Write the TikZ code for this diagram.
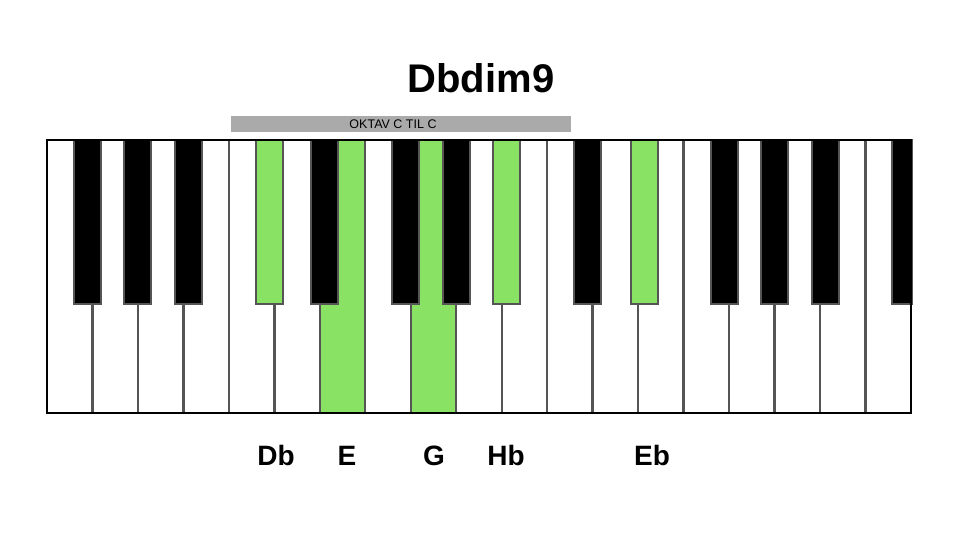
\documentclass[tikz,border=0pt]{standalone}
\usepackage{fontspec}
\setmainfont{Liberation Sans}
\definecolor{keygreen}{RGB}{137,226,100}
\definecolor{keyline}{RGB}{85,85,85}
\definecolor{barg}{RGB}{170,170,170}
\begin{document}
\begin{tikzpicture}[x=1pt,y=-1pt,
  whitekey/.style={draw=keyline, line width=2.3pt, minimum width=45.47pt, minimum height=273pt, inner sep=0pt, outer sep=0pt, anchor=north west},
  blackkey/.style={draw=keyline, line width=2pt, minimum width=27pt, minimum height=164pt, inner sep=0pt, outer sep=0pt, anchor=north west},
  notelabel/.style={anchor=base, inner sep=0pt, font=\bfseries\fontsize{28}{32}\selectfont},
  titletext/.style={anchor=base, inner sep=0pt, font=\bfseries\fontsize{40}{46}\selectfont},
  bartext/.style={anchor=base, inner sep=0pt, font=\fontsize{12.5}{14}\selectfont}]
\useasboundingbox (0,0) rectangle (960,540);
\fill[white] (0,0) rectangle (960,540);
% title
\node[titletext] (title) at (481,93) {Dbdim9};
% octave bar
\node[fill=barg, minimum width=340pt, minimum height=16pt, inner sep=0pt, anchor=north west] (bar) at (231,116) {};
\node[bartext] (bartxt) at (393,129) {OKTAV C TIL C};
% white keys
\foreach \i/\f in {0/white,1/white,2/white,3/white,4/white,5/white,6/keygreen,7/white,8/keygreen,9/white,10/white,11/white,12/white,13/white,14/white,15/white,16/white,17/white,18/white}{
  \node[whitekey, fill=\f] (w\i) at ({47+\i*45.47},140) {};
}
% black keys
\foreach \n/\b/\o/\f in {1/1/-5/black,2/2/0/black,3/3/5/black,4/5/-5/keygreen,5/6/5/black,6/8/-5/black,7/9/0/black,8/10/5/keygreen,9/12/-5/black,10/13/6/keygreen,11/15/-5/black,12/16/0/black,13/17/5/black}{
  \node[blackkey, fill=\f] (b\n) at ({47+\b*45.47+\o-13.5},140) {};
}
\node[blackkey, fill=black, minimum width=19.5pt] (b14) at (892,140) {};
% frame
\draw[line width=2pt] (w0.north west) rectangle (w18.south east);
% labels
\node[notelabel] (lDb) at (276,465) {Db};
\node[notelabel] (lE) at (347,465) {E};
\node[notelabel] (lG) at (434,465) {G};
\node[notelabel] (lHb) at (506,465) {Hb};
\node[notelabel] (lEb) at (652,465) {Eb};
\end{tikzpicture}
\end{document}
